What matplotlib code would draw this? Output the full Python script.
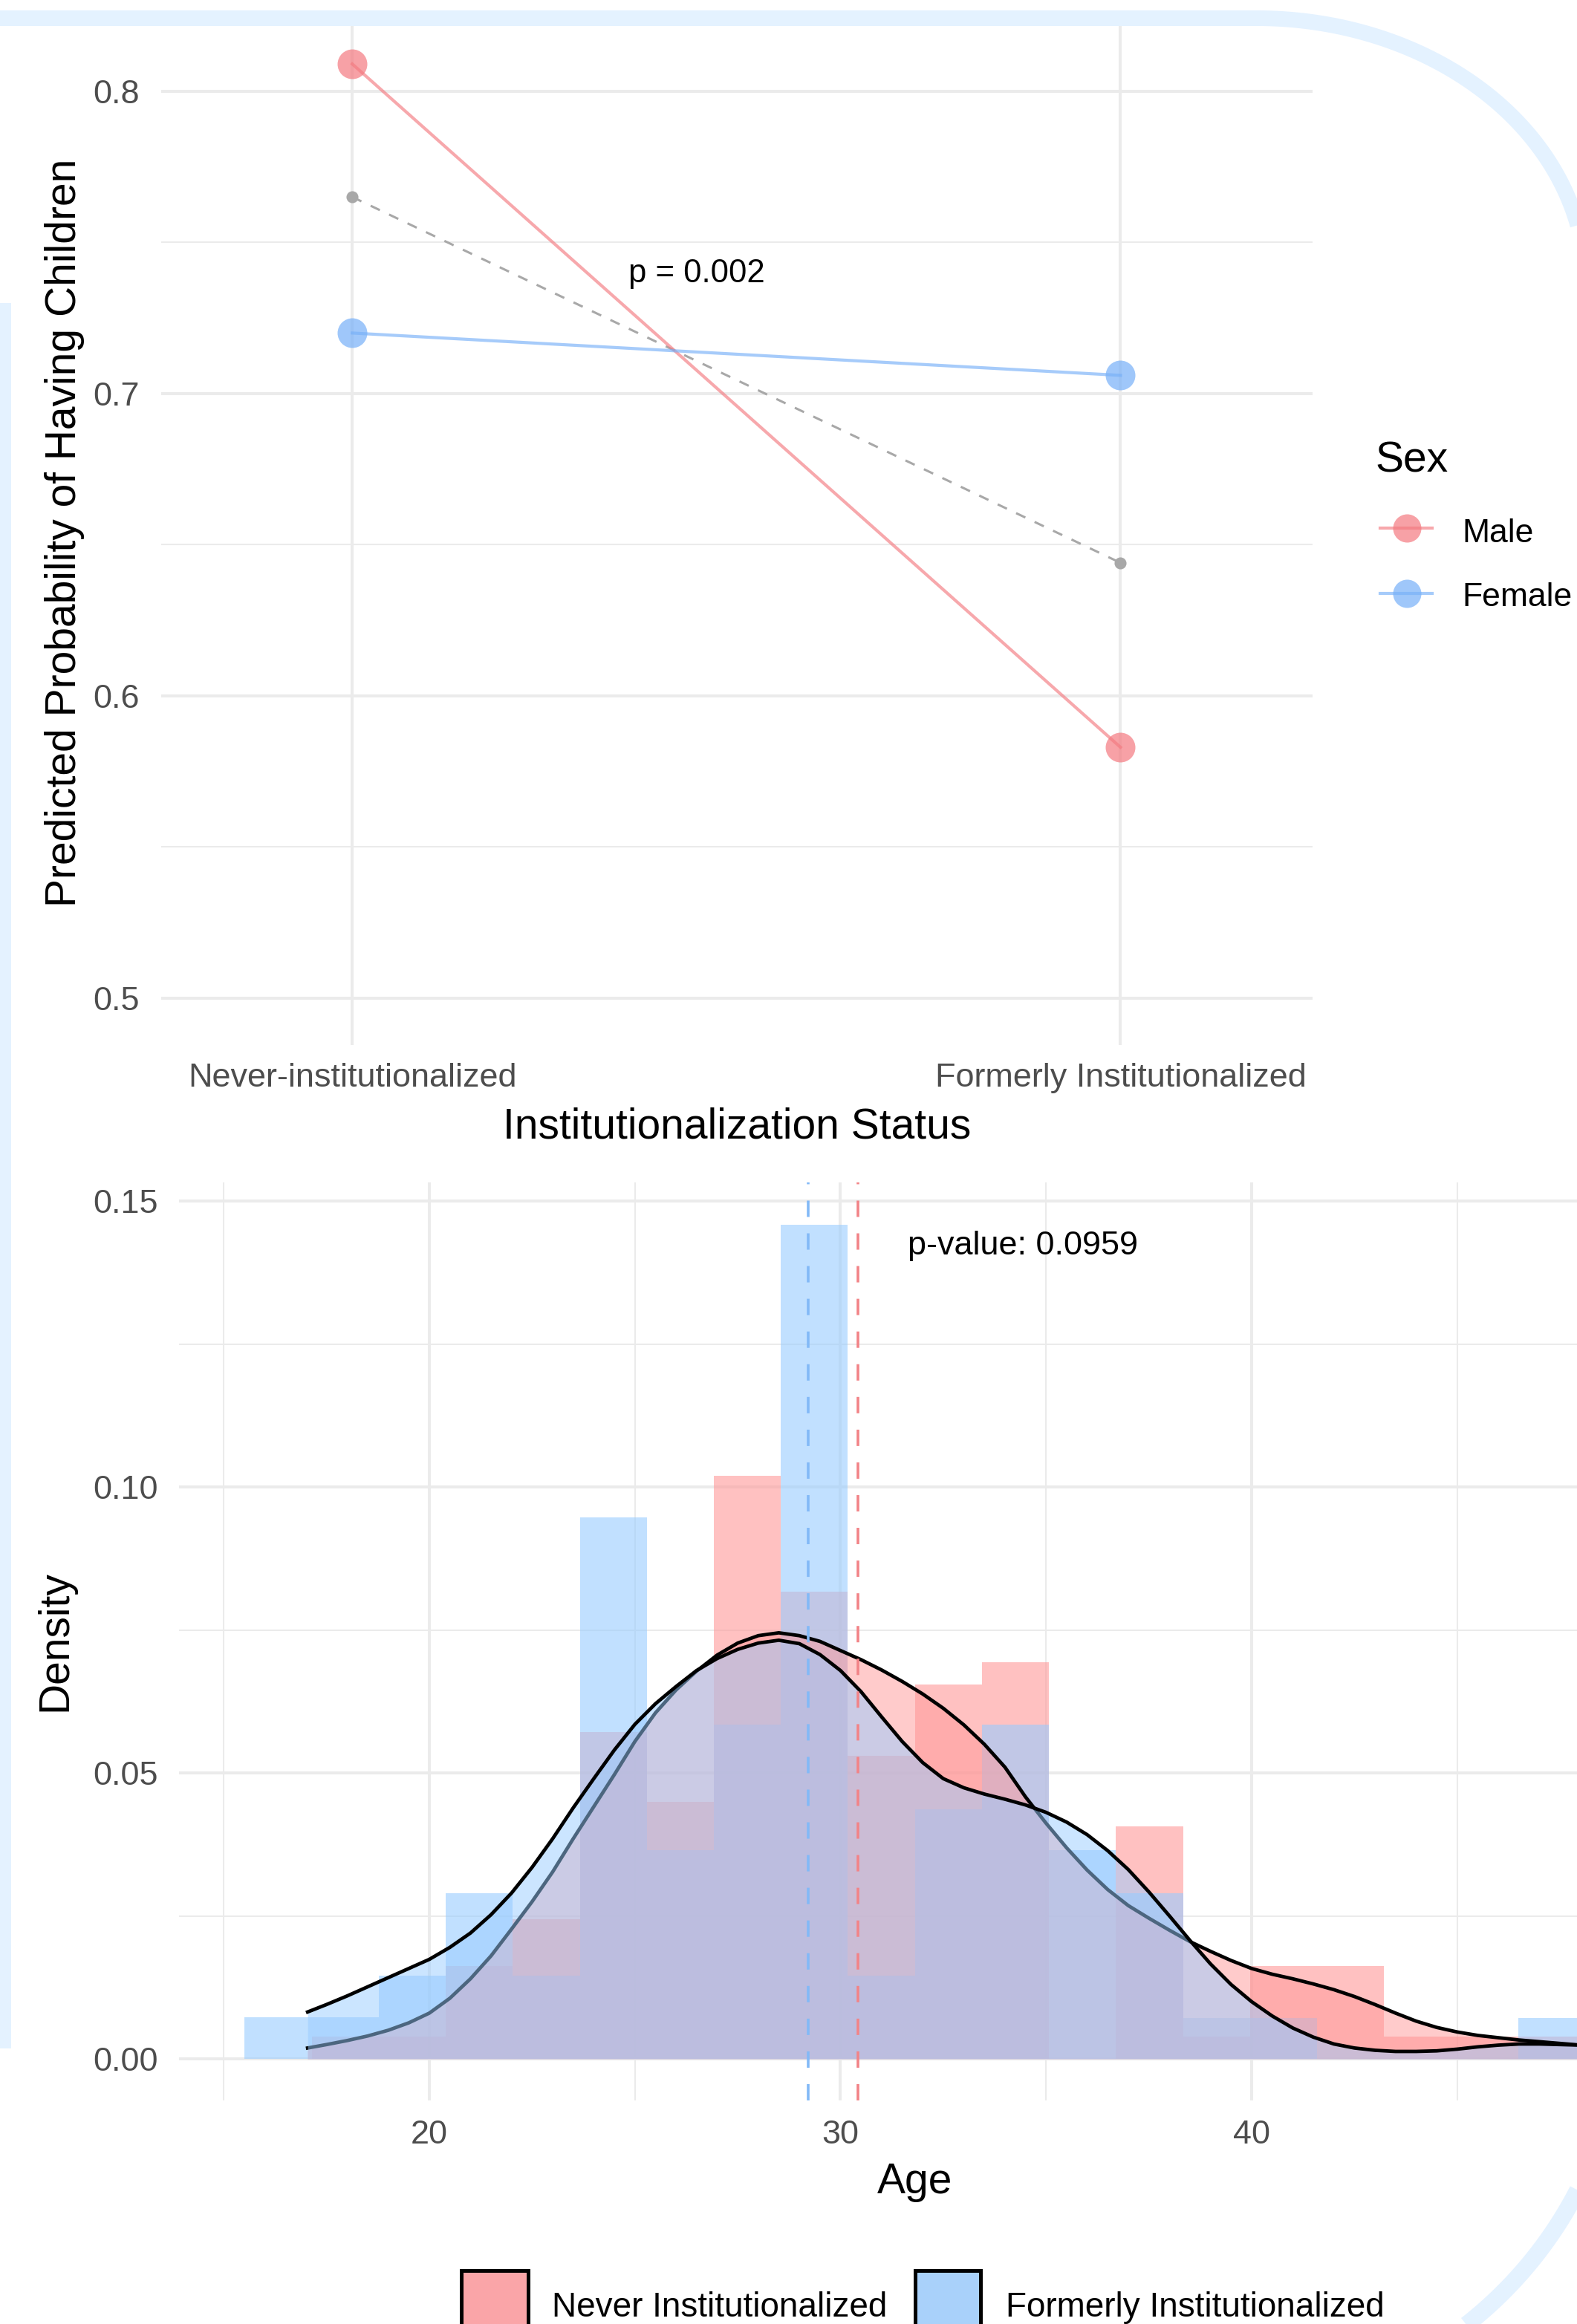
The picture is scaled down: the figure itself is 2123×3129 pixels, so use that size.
import matplotlib
matplotlib.use("Agg")
import matplotlib.pyplot as plt
import numpy as np
from matplotlib.patches import Rectangle

plt.rcParams['font.family'] = ['Liberation Sans', 'DejaVu Sans']

W, H, DPI = 2123, 3129, 200

# ---- top chart: predicted probabilities ----
status = ["Never-institutionalized", "Formerly Institutionalized"]
male_prob = [0.809, 0.583]
female_prob = [0.720, 0.706]
avg_prob = [0.765, 0.644]
p_top = "p = 0.002"

# ---- bottom chart: age distribution ----
bin_edges = [15.51, 17.14, 18.77, 20.40, 22.03, 23.66, 25.29, 26.92, 28.55, 30.18,
             31.81, 33.44, 35.07, 36.70, 38.33, 39.96, 41.59, 43.22, 44.85, 46.48]
bin_width = 1.63
never_hist = [0.0, 0.0039, 0.0039, 0.0163, 0.0244, 0.0571, 0.0449, 0.1019, 0.0817, 0.0530,
              0.0654, 0.0693, 0.0, 0.0407, 0.0039, 0.0163, 0.0163, 0.0039, 0.0039, 0.0039]
formerly_hist = [0.0073, 0.0073, 0.0145, 0.0290, 0.0145, 0.0947, 0.0365, 0.0585, 0.1458, 0.0146,
                 0.0437, 0.0585, 0.0365, 0.0290, 0.0072, 0.0072, 0.0, 0.0, 0.0, 0.0072]

kde_age = [17.04, 17.5, 18.0, 18.5, 19.0, 19.5, 20.0, 20.5, 21.0, 21.5, 22.0, 22.5, 23.0,
           23.5, 24.0, 24.5, 25.0, 25.5, 26.0, 26.5, 27.0, 27.5, 28.0, 28.5, 29.0, 29.5,
           30.0, 30.5, 31.0, 31.5, 32.0, 32.5, 33.0, 33.5, 34.0, 34.5, 35.0, 35.5, 36.0,
           36.5, 37.0, 37.5, 38.0, 38.5, 39.0, 39.5, 40.0, 40.5, 41.0, 41.5, 42.0, 42.5,
           43.0, 43.5, 44.0, 44.5, 45.0, 45.5, 46.0, 46.5, 47.0, 47.5, 48.0, 48.5]
never_kde = [0.0019, 0.0025, 0.0032, 0.0040, 0.0050, 0.0063, 0.0080, 0.0106, 0.0140, 0.0180,
             0.0227, 0.0275, 0.0327, 0.0385, 0.0441, 0.0497, 0.0555, 0.0605, 0.0645, 0.0678,
             0.0706, 0.0727, 0.0740, 0.0745, 0.0740, 0.0730, 0.0714, 0.0698, 0.0680, 0.0660,
             0.0638, 0.0613, 0.0584, 0.0550, 0.0510, 0.0458, 0.0412, 0.0369, 0.0330, 0.0296,
             0.0268, 0.0246, 0.0225, 0.0205, 0.0188, 0.0172, 0.0158, 0.0148, 0.0140, 0.0131,
             0.0121, 0.0109, 0.0095, 0.0080, 0.0066, 0.0055, 0.0047, 0.0041, 0.0037, 0.0033,
             0.0030, 0.0027, 0.0024, 0.0022]
formerly_kde = [0.0082, 0.0095, 0.0110, 0.0126, 0.0142, 0.0158, 0.0174, 0.0195, 0.0220, 0.0252,
                0.0290, 0.0335, 0.0385, 0.0439, 0.0490, 0.0540, 0.0585, 0.0621, 0.0651, 0.0679,
                0.0700, 0.0716, 0.0727, 0.0732, 0.0726, 0.0707, 0.0679, 0.0642, 0.0598, 0.0555,
                0.0518, 0.0490, 0.0474, 0.0463, 0.0454, 0.0444, 0.0431, 0.0414, 0.0392, 0.0364,
                0.0331, 0.0292, 0.0250, 0.0207, 0.0166, 0.0130, 0.0100, 0.0075, 0.0054, 0.0038,
                0.0026, 0.0019, 0.0015, 0.0013, 0.0013, 0.0014, 0.0017, 0.0021, 0.0024, 0.0026,
                0.0026, 0.0025, 0.0024, 0.0023]

never_mean = 30.42
formerly_mean = 29.21
p_bottom = "p-value: 0.0959"
groups = ["Never Institutionalized", "Formerly Institutionalized"]

male_col = "#F47A80"
female_col = "#77B0F8"
red_fill = "#FF9999"
blue_fill = "#99CCFF"
grid_col = "#EBEBEB"
tick_col = "#4D4D4D"
frame_col = "#E4F2FF"


def px_w(p):
    return p / W


def px_h(p):
    return p / H


fig = plt.figure(figsize=(W / DPI, H / DPI), dpi=DPI)
fig.patch.set_facecolor("white")

# ================= top chart =================
ax1 = fig.add_axes([px_w(216.6), 1 - px_h(1407), px_w(1550.4), px_h(1407 - 22.6)])
xpos = [1, 2]
ax1.plot(xpos, avg_prob, color="#A8A8A8", lw=1.1, dashes=(4.5, 4.5), zorder=2)
ax1.plot(xpos, avg_prob, "o", color="#A8A8A8", ms=5.8, mec="none", zorder=2)
ax1.plot(xpos, male_prob, color=male_col, alpha=0.65, lw=1.5, zorder=3)
ax1.plot(xpos, female_prob, color=female_col, alpha=0.65, lw=1.5, zorder=3)
ax1.plot(xpos, male_prob, "o", color=male_col, alpha=0.7, ms=14.4, mec="none", zorder=4)
ax1.plot(xpos, female_prob, "o", color=female_col, alpha=0.7, ms=14.4, mec="none", zorder=4)
ax1.text(1.448, 0.7368, p_top, ha="center", va="baseline", fontsize=15.7, color="black")

ax1.set_xlim(0.751, 2.25)
ax1.set_ylim(0.48452, 0.82459)
ax1.set_xticks(xpos)
ax1.set_xticklabels(status)
ax1.set_yticks([0.5, 0.6, 0.7, 0.8])
ax1.set_yticklabels(["0.5", "0.6", "0.7", "0.8"])
ax1.set_yticks([0.55, 0.65, 0.75], minor=True)
ax1.grid(which="major", color=grid_col, lw=1.45, zorder=0)
ax1.grid(which="minor", axis="y", color=grid_col, lw=0.75, zorder=0)
ax1.set_axisbelow(True)
for s in ax1.spines.values():
    s.set_visible(False)
ax1.tick_params(axis="both", which="both", length=0, labelsize=16.2, labelcolor=tick_col)
ax1.tick_params(axis="y", pad=10.4)
ax1.tick_params(axis="x", pad=8.5)

fig.text(px_w(992), 1 - px_h(1532), "Institutionalization Status", ha="center", va="baseline",
         fontsize=20.5)
fig.text(px_w(87), 1 - px_h(717), "Predicted Probability of Having Children", ha="center",
         va="center", rotation=90, fontsize=20.5)

# ================= bottom chart =================
ax2 = fig.add_axes([px_w(241), 1 - px_h(2828), px_w(1984), px_h(2828 - 1592)])
ax2.bar(bin_edges, never_hist, width=bin_width, align="edge", color=red_fill, alpha=0.6,
        lw=0, zorder=2)
ax2.bar(bin_edges, formerly_hist, width=bin_width, align="edge", color=blue_fill, alpha=0.6,
        lw=0, zorder=2)
ax2.fill_between(kde_age, never_kde, 0, color=red_fill, alpha=0.5, lw=0, zorder=3)
ax2.plot(kde_age, never_kde, color="black", lw=1.7, zorder=3, solid_joinstyle="round")
ax2.fill_between(kde_age, formerly_kde, 0, color=blue_fill, alpha=0.5, lw=0, zorder=4)
ax2.plot(kde_age, formerly_kde, color="black", lw=1.7, zorder=4, solid_joinstyle="round")
ax2.axvline(formerly_mean, color="#82B9F7", lw=1.3, dashes=(6.1, 6.1), zorder=5)
ax2.axvline(never_mean, color="#F28387", lw=1.3, dashes=(6.1, 6.1), zorder=5)
ax2.text(34.44, 0.1406, p_bottom, ha="center", va="baseline", fontsize=16.2, color="black")

ax2.set_xlim(13.912, 49.756)
ax2.set_ylim(-0.00727, 0.15325)
ax2.set_xticks([20, 30, 40])
ax2.set_xticklabels(["20", "30", "40"])
ax2.set_xticks([15, 25, 35, 45], minor=True)
ax2.set_yticks([0.0, 0.05, 0.10, 0.15])
ax2.set_yticklabels(["0.00", "0.05", "0.10", "0.15"])
ax2.set_yticks([0.025, 0.075, 0.125], minor=True)
ax2.grid(which="major", color=grid_col, lw=1.45, zorder=0)
ax2.grid(which="minor", color=grid_col, lw=0.75, zorder=0)
ax2.set_axisbelow(True)
for s in ax2.spines.values():
    s.set_visible(False)
ax2.tick_params(axis="both", which="both", length=0, labelsize=16.2, labelcolor=tick_col)
ax2.tick_params(axis="y", pad=10.2)
ax2.tick_params(axis="x", pad=9.5)

fig.text(px_w(1232), 1 - px_h(2953), "Age", ha="center", va="baseline", fontsize=20.5)
fig.text(px_w(74), 1 - px_h(2209), "Density", ha="center", va="center", rotation=90,
         fontsize=20.5)

# ================= overlay: legends and page frame (pixel coords) =================
ov = fig.add_axes([0, 0, 1, 1], zorder=10)
ov.set_xlim(0, W)
ov.set_ylim(H, 0)
ov.axis("off")
ov.patch.set_alpha(0)

# Sex legend
ov.text(1851, 635, "Sex", ha="left", va="baseline", fontsize=20.5)
for yk, col, lab, yb in [(710.7, male_col, "Male", 730), (799.3, female_col, "Female", 816)]:
    ov.plot([1858, 1928], [yk, yk], color=col, alpha=0.65, lw=1.5)
    ov.plot([1894], [yk], "o", color=col, alpha=0.7, ms=13.7, mec="none")
    ov.text(1968, yb, lab, ha="left", va="baseline", fontsize=16)

# group legend
for xk, wk, fc, lab, xt in [(620.7, 90, "#FAA5A8", groups[0], 743),
                            (1232, 88, "#A9D1FA", groups[1], 1354)]:
    ov.add_patch(Rectangle((xk, 3056.7), wk, 110, fc=fc, ec="black", lw=1.8))
    ov.text(xt, 3119, lab, ha="left", va="baseline", fontsize=16.5)

# decorative page frame: top edge with rounded top-right corner
t = np.linspace(np.pi / 2, 0, 80)
fx = np.concatenate([[-50], 1692 + 443 * np.cos(t), [2135]])
fy = np.concatenate([[24.5], 382.5 - 358 * np.sin(t), [1500]])
ov.plot(fx, fy, color=frame_col, lw=21 * 72 / DPI, solid_capstyle="butt")
# rounded bottom-right corner
t = np.linspace(0, np.pi / 2, 80)
bx = np.concatenate([[2185], 1635 + 550 * np.cos(t), [1500]])
by = np.concatenate([[2300], 2697 + 550 * np.sin(t), [3247]])
ov.plot(bx, by, color=frame_col, lw=23 * 72 / DPI, solid_capstyle="butt")
# left strip
ov.add_patch(Rectangle((0, 408), 15, 2350, fc=frame_col, ec="none"))

fig.savefig("out.png", dpi=DPI, facecolor="white")
